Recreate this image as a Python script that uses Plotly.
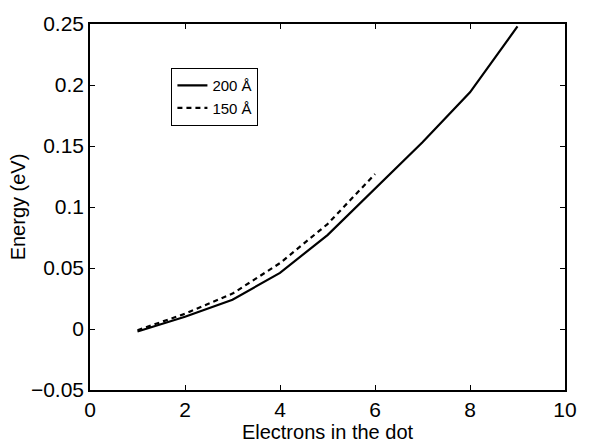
import plotly.graph_objects as go

# Data
electrons_200 = [1, 2, 3, 4, 5, 6, 7, 8, 9]
energy_200 = [-0.002, 0.010, 0.024, 0.046, 0.077, 0.115, 0.153, 0.194, 0.248]

electrons_150 = [1, 2, 3, 4, 5, 6]
energy_150 = [-0.001, 0.0125, 0.029, 0.054, 0.086, 0.127]

x_ticks = [0, 2, 4, 6, 8, 10]
y_ticks = [-0.05, 0, 0.05, 0.1, 0.15, 0.2, 0.25]
y_tick_text = ["\u22120.05", "0", "0.05", "0.1", "0.15", "0.2", "0.25"]

FONT = "Liberation Sans, Arial, Helvetica, sans-serif"

fig = go.Figure()
fig.add_trace(go.Scatter(x=electrons_200, y=energy_200, mode="lines",
                         name="200 \u00c5", line=dict(color="black", width=2.2)))
fig.add_trace(go.Scatter(x=electrons_150, y=energy_150, mode="lines",
                         name="150 \u00c5", line=dict(color="black", width=2.2, dash="5px,4px")))

axis_common = dict(showline=True, linecolor="black", linewidth=1.5, mirror="ticks",
                   ticks="inside", ticklen=5, tickwidth=1.2, tickcolor="black",
                   showgrid=False, zeroline=False,
                   tickfont=dict(family=FONT, size=21, color="black"))

fig.update_xaxes(range=[0, 10], tickvals=x_ticks, ticktext=[str(v) for v in x_ticks],
                 title=dict(text="Electrons in the dot", font=dict(family=FONT, size=20, color="black"),
                            standoff=0),
                 **axis_common)
fig.update_yaxes(range=[-0.05, 0.25], tickvals=y_ticks, ticktext=y_tick_text,
                 title=dict(text="Energy (eV)", font=dict(family=FONT, size=20, color="black"),
                            standoff=0),
                 **axis_common)

fig.update_layout(width=589, height=447, margin=dict(l=90, r=14, t=12, b=51),
                  plot_bgcolor="white", paper_bgcolor="white",
                  font=dict(family=FONT, color="black"),
                  showlegend=True,
                  legend=dict(x=0.171, y=0.88, xanchor="left", yanchor="top",
                              bgcolor="white", bordercolor="black", borderwidth=1.2,
                              font=dict(family=FONT, size=15, color="black"),
                              itemwidth=30, tracegroupgap=0))

fig.write_html("out.html")
